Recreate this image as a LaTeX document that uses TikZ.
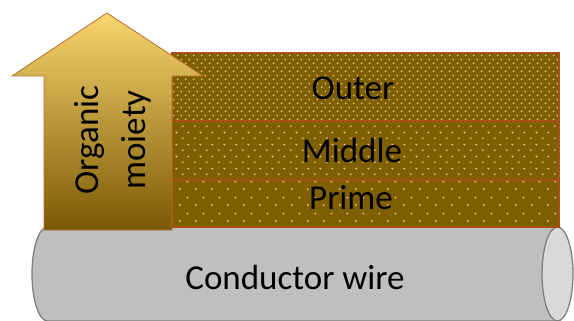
\documentclass[tikz,border=0pt]{standalone}
\usepackage{fontspec}
\setmainfont{Carlito}
\usetikzlibrary{positioning,patterns.meta}
\definecolor{layerfill}{HTML}{7F6000}
\definecolor{layeredge}{HTML}{A94E17}
\definecolor{dotcol}{HTML}{F8CB98}
\definecolor{arrowtop}{HTML}{F9D56E}
\definecolor{arrowbot}{HTML}{7A5A06}
\definecolor{arrowedge}{HTML}{B8702C}
\definecolor{wirefill}{HTML}{BFBFBF}
\definecolor{wireend}{HTML}{D9D9D9}
\definecolor{wireedge}{HTML}{7F7F7F}

% dot fillings of the three layers (dense to sparse)
\tikzdeclarepattern{name=outerdots,type=uncolored,
  bottom left={(0pt,0pt)},top right={(8pt,8pt)},tile size={(8pt,8pt)},
  code={\fill (2pt,2pt) circle (1pt); \fill (6pt,6pt) circle (1pt);}}
\tikzdeclarepattern{name=middledots,type=uncolored,
  bottom left={(0pt,0pt)},top right={(12pt,12pt)},tile size={(12pt,12pt)},
  code={\fill (3pt,3pt) circle (1pt); \fill (9pt,9pt) circle (1pt);}}
\tikzdeclarepattern{name=primedots,type=uncolored,
  bottom left={(0pt,0pt)},top right={(16pt,16pt)},tile size={(16pt,16pt)},
  code={\fill (4pt,4pt) circle (1pt); \fill (12pt,12pt) circle (1pt);}}

\begin{document}
\begin{tikzpicture}[x=1pt,y=-1pt,
  layer/.style={preaction={fill=layerfill},pattern color=dotcol,postaction={draw=layeredge,line width=1.3pt},
    minimum width=387pt,inner sep=0pt,outer sep=0pt},
  lbl/.style={font=\fontsize{35}{47}\selectfont,anchor=base,inner sep=0pt},
  wire/.style={draw=wireedge,line width=1.3pt}]
\useasboundingbox (0,0) rectangle (574,321);
% conductor
\draw[wire,fill=wirefill] (47.5,227) -- (557.5,227) -- (557.5,321) -- (47.5,321)
  arc[start angle=90,end angle=270,x radius=15.5,y radius=47];
\draw[wire,fill=wireend] (557.5,274) ellipse [x radius=15.5,y radius=47];
\node[lbl] (wiretxt) at (295,289) {Conductor wire};
% layers
\node[layer,pattern=outerdots,minimum height=68pt,anchor=north west] (outer) at (172,53) {};
\node[layer,pattern=middledots,minimum height=59pt,below=0pt of outer] (middle) {};
\node[layer,pattern=primedots,minimum height=47pt,below=0pt of middle] (prime) {};
\node[lbl] (outertxt) at (353,100) {Outer};
\node[lbl] (middletxt) at (352,163) {Middle};
\node[lbl] (primetxt) at (351,210) {Prime};
% organic moiety arrow
\draw[arrowedge,line width=0.8pt,top color=arrowtop,bottom color=arrowbot]
  (44,230) -- (44,76) -- (12,76) -- (107,13) -- (203,76) -- (172,76) -- (172,230) -- cycle;
\node[font=\fontsize{35}{47}\selectfont,align=center,rotate=90,inner sep=0pt] (moiety) at (113,140) {Organic\\moiety};
\end{tikzpicture}
\end{document}
